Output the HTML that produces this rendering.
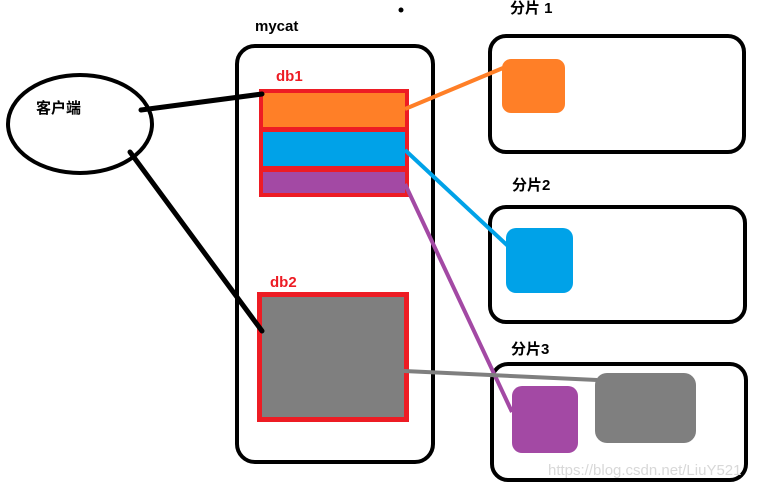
<!DOCTYPE html>
<html><head><meta charset="utf-8"><style>
html,body{margin:0;padding:0;background:#fff;}
svg{display:block;}
text{font-family:"Liberation Sans","Noto Sans CJK SC",sans-serif;font-weight:bold;}
</style></head><body>
<svg width="759" height="490" viewBox="0 0 759 490" xmlns="http://www.w3.org/2000/svg">
<rect width="759" height="490" fill="#fff"/>
<circle cx="401" cy="10" r="2.5" fill="#000"/>
<!-- client -->
<ellipse cx="80" cy="124" rx="72" ry="49" fill="none" stroke="#000" stroke-width="4"/>
<text x="36" y="113" font-size="15" fill="#000">客户端</text>
<!-- mycat -->
<text x="255" y="31" font-size="15" fill="#000">mycat</text>
<rect x="237" y="46" width="196" height="416" rx="18" fill="none" stroke="#000" stroke-width="4"/>
<!-- db1 -->
<text x="276" y="81" font-size="15" fill="#ed1c24">db1</text>
<rect x="259" y="89" width="150" height="108" fill="#ed1c24"/>
<rect x="263" y="93" width="142" height="34" fill="#ff7f27"/>
<rect x="263" y="132" width="142" height="34" fill="#00a2e8"/>
<rect x="263" y="172" width="142" height="21" fill="#a349a4"/>
<!-- db2 -->
<text x="270" y="287" font-size="15" fill="#ed1c24">db2</text>
<rect x="257" y="292" width="152" height="130" fill="#ed1c24"/>
<rect x="262" y="297" width="142" height="120" fill="#7f7f7f"/>
<!-- shards -->
<text x="510" y="13" font-size="15" fill="#000">分片 1</text>
<rect x="490" y="36" width="254" height="116" rx="16" fill="none" stroke="#000" stroke-width="4"/>
<rect x="502" y="59" width="63" height="54" rx="9" fill="#ff7f27"/>
<text x="512" y="190" font-size="15" fill="#000">分片2</text>
<rect x="490" y="207" width="255" height="115" rx="16" fill="none" stroke="#000" stroke-width="4"/>
<rect x="506" y="228" width="67" height="65" rx="10" fill="#00a2e8"/>
<text x="511" y="354" font-size="15" fill="#000">分片3</text>
<rect x="492" y="364" width="254" height="116" rx="16" fill="none" stroke="#000" stroke-width="4"/>
<rect x="512" y="386" width="66" height="67" rx="10" fill="#a349a4"/>
<rect x="595" y="373" width="101" height="70" rx="12" fill="#7f7f7f"/>
<!-- connectors -->
<line x1="141" y1="110" x2="262" y2="94" stroke="#000" stroke-width="5" stroke-linecap="round"/>
<line x1="130" y1="152" x2="262" y2="331" stroke="#000" stroke-width="5" stroke-linecap="round"/>
<line x1="405" y1="109" x2="503" y2="68" stroke="#ff7f27" stroke-width="4"/>
<line x1="405" y1="150" x2="508" y2="246" stroke="#00a2e8" stroke-width="4"/>
<line x1="405" y1="184" x2="512" y2="412" stroke="#a349a4" stroke-width="4"/>
<line x1="404" y1="371" x2="597" y2="380" stroke="#7f7f7f" stroke-width="4"/>
<text x="548" y="475" font-size="15" font-weight="normal" fill="#d8d8d8" style="font-weight:normal">https://blog.csdn.net/LiuY521</text>
</svg>
</body></html>
